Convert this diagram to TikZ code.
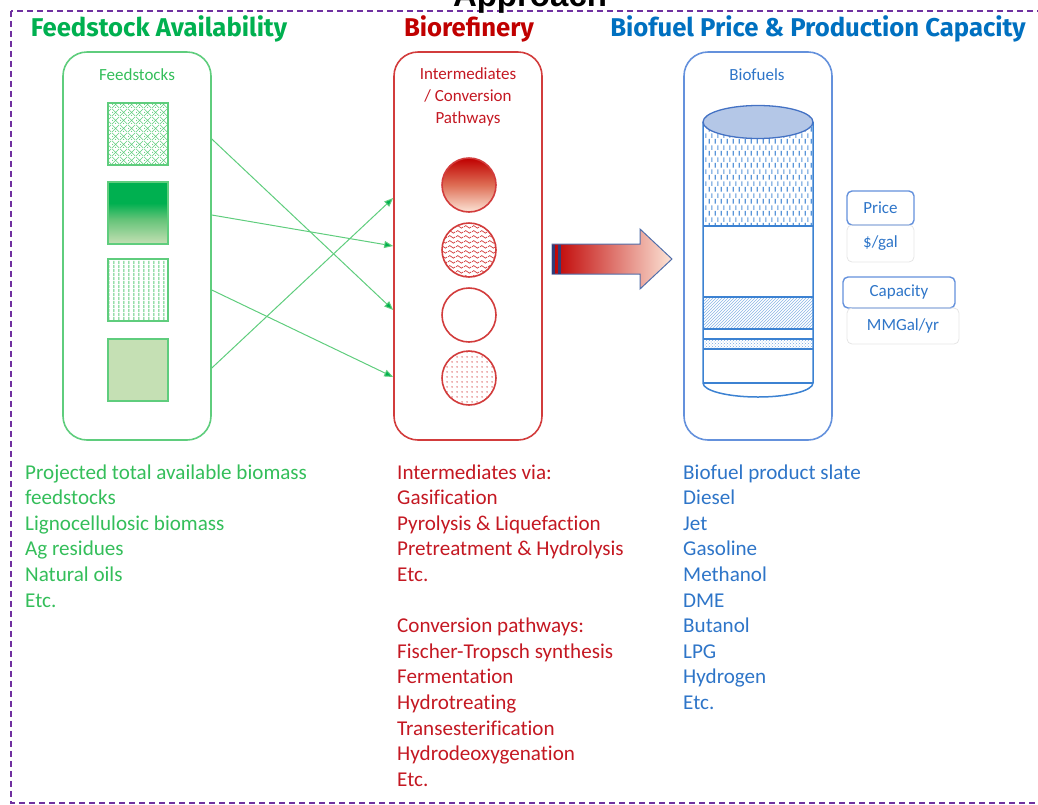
\documentclass[tikz,border=0pt]{standalone}
\usepackage{fontspec}
\setmainfont[Ligatures=NoCommon]{Carlito}
\newfontfamily\headfont{Fira Sans}
\newfontfamily\titlefont{Liberation Sans}
\usetikzlibrary{arrows.meta,patterns}

\definecolor{headgreen}{RGB}{0,176,80}
\definecolor{headred}{RGB}{192,0,0}
\definecolor{headblue}{RGB}{0,112,192}
\definecolor{feedgreen}{RGB}{52,190,90}
\definecolor{feededge}{RGB}{95,205,125}
\definecolor{refred}{RGB}{196,24,34}
\definecolor{refedge}{RGB}{210,60,60}
\definecolor{fuelblue}{RGB}{46,117,200}
\definecolor{fueledge}{RGB}{100,145,220}
\definecolor{swlight}{RGB}{197,224,180}
\definecolor{swmid}{RGB}{100,195,120}
\definecolor{swdark}{RGB}{0,176,80}
\definecolor{pathred}{RGB}{192,0,0}
\definecolor{pathmid}{RGB}{222,110,85}
\definecolor{pathpeach}{RGB}{252,228,214}
\definecolor{cyltop}{RGB}{180,199,231}
\definecolor{cyledge}{RGB}{68,114,196}
\definecolor{cylblue}{RGB}{60,130,210}
\definecolor{framepurple}{RGB}{112,48,160}
\definecolor{arrowedge}{RGB}{80,110,170}
\definecolor{stripenavy}{RGB}{50,60,120}

% fills for swatches, pathway circles and the flow arrow
\pgfdeclareverticalshading{greenfade}{100bp}{color(0bp)=(swlight); color(25bp)=(swlight); color(45bp)=(swmid); color(58bp)=(swdark); color(100bp)=(swdark)}
\pgfdeclareverticalshading{redfade}{100bp}{color(0bp)=(pathpeach); color(25bp)=(pathpeach); color(50bp)=(pathmid); color(75bp)=(pathred); color(100bp)=(pathred)}
\pgfdeclarehorizontalshading{flowfade}{100bp}{color(0bp)=(pathred); color(25bp)=(pathred); color(75bp)=(pathpeach); color(100bp)=(pathpeach)}

\pgfdeclarepatternformonly{ripples}{\pgfpointorigin}{\pgfqpoint{8pt}{5pt}}{\pgfqpoint{8pt}{5pt}}{
  \pgfsetlinewidth{0.8pt}
  \pgfpathmoveto{\pgfqpoint{0pt}{2.5pt}}
  \pgfpathcurveto{\pgfqpoint{2pt}{4.5pt}}{\pgfqpoint{2pt}{4.5pt}}{\pgfqpoint{4pt}{2.5pt}}
  \pgfpathcurveto{\pgfqpoint{6pt}{0.5pt}}{\pgfqpoint{6pt}{0.5pt}}{\pgfqpoint{8pt}{2.5pt}}
  \pgfusepath{stroke}}
\pgfdeclarepatternformonly{fueldashes}{\pgfpointorigin}{\pgfqpoint{6pt}{12pt}}{\pgfqpoint{6pt}{12pt}}{
  \pgfsetlinewidth{1.3pt}
  \pgfpathmoveto{\pgfqpoint{1.5pt}{0.5pt}}\pgfpathlineto{\pgfqpoint{1.5pt}{5.5pt}}
  \pgfpathmoveto{\pgfqpoint{4.5pt}{6.5pt}}\pgfpathlineto{\pgfqpoint{4.5pt}{11.5pt}}
  \pgfusepath{stroke}}
\pgfdeclarepatternformonly{openlines}{\pgfpointorigin}{\pgfqpoint{4.5pt}{4pt}}{\pgfqpoint{4.5pt}{4pt}}{
  \pgfsetlinewidth{1.2pt}
  \pgfpathmoveto{\pgfqpoint{1pt}{0pt}}\pgfpathlineto{\pgfqpoint{1pt}{4pt}}
  \pgfusepath{stroke}}
\pgfdeclarepatternformonly{bigdots}{\pgfpointorigin}{\pgfqpoint{5pt}{5pt}}{\pgfqpoint{5pt}{5pt}}{
  \pgfpathcircle{\pgfqpoint{2.5pt}{2.5pt}}{0.9pt}
  \pgfusepath{fill}}
\pgfdeclarepatternformonly{lattice}{\pgfpointorigin}{\pgfqpoint{8pt}{8pt}}{\pgfqpoint{8pt}{8pt}}{
  \pgfsetlinewidth{0.6pt}
  \pgfpathmoveto{\pgfqpoint{0pt}{0pt}}\pgfpathlineto{\pgfqpoint{8pt}{8pt}}
  \pgfpathmoveto{\pgfqpoint{0pt}{8pt}}\pgfpathlineto{\pgfqpoint{8pt}{0pt}}
  \pgfusepath{stroke}
  \pgfpathcircle{\pgfqpoint{4pt}{0.6pt}}{0.7pt}
  \pgfpathcircle{\pgfqpoint{0.6pt}{4pt}}{0.7pt}
  \pgfusepath{fill}}

\tikzset{
  panel/.style={draw, rounded corners=24pt, line width=1.6pt, minimum width=148pt, minimum height=388pt, inner sep=0pt},
  headline/.style={font=\headfont\bfseries\fontsize{25.7}{30}\selectfont},
  paneltitle/.style={font=\fontsize{17}{22}\selectfont, align=center},
  listtext/.style={anchor=base west, inner sep=0pt, font=\fontsize{21.1}{25.6}\selectfont},
  swatch/.style={draw=feededge, line width=1.8pt, minimum width=60pt, minimum height=62pt, inner sep=0pt},
  pathway/.style={circle, draw=refedge, line width=1.6pt, minimum size=54pt, inner sep=0pt},
  feedarrow/.style={draw=feededge, line width=1pt, -{Triangle[length=9pt,width=7pt,fill=headgreen]}},
  tagbox/.style={draw=fueledge, rounded corners=5pt, line width=1.4pt, inner sep=0pt, text=fuelblue, font=\fontsize{17}{20}\selectfont},
  unitbox/.style={draw=black!10, rounded corners=5pt, line width=0.8pt, inner sep=0pt, text=fuelblue, font=\fontsize{17}{20}\selectfont},
  cylline/.style={draw=cylblue, line width=1.5pt}
}

\begin{document}
\begin{tikzpicture}[x=1pt,y=-1pt]
  \useasboundingbox (0,0) rectangle (1038,804);

  % frame and headings
  \draw[framepurple, line width=1.5pt, dash pattern=on 6pt off 4pt] (11,11) rectangle (1050,803);
  \node[font=\titlefont\bfseries\fontsize{33}{36}\selectfont, anchor=base] (approach) at (530,6) {Approach};
  \node[headline, text=headgreen] (feedhead) at (159,29) {Feedstock Availability};
  \node[headline, text=headred] (refhead) at (469,29) {Biorefinery};
  \node[headline, text=headblue] (fuelhead) at (818,29) {Biofuel Price \& Production Capacity};

  % panels
  \node[panel, draw=feededge] (feedbox) at (137,246) {};
  \node[panel, draw=refedge] (refbox) at (468,246) {};
  \node[panel, draw=fueledge] (fuelbox) at (758,246) {};
  \node[paneltitle, text=feedgreen] (feedlabel) at (137,75) {Feedstocks};
  \node[paneltitle, text=refred] (reflabel) at (468,97) {Intermediates\\/ Conversion\\Pathways};
  \node[paneltitle, text=fuelblue] (fuellabel) at (757,75) {Biofuels};

  % feedstock swatches
  \node[swatch, pattern=lattice, pattern color=feededge] (sw1) at (138,134) {};
  \node[swatch, shading=greenfade] (sw2) at (138,213) {};
  \node[swatch, pattern=openlines, pattern color=feededge] (sw3) at (138,290) {};
  \node[swatch, fill=swlight] (sw4) at (138,370) {};

  % intermediates / pathways
  \node[pathway, shading=redfade] (pw1) at (469,185) {};
  \node[pathway, pattern=ripples, pattern color=refedge] (pw2) at (469,250) {};
  \node[pathway] (pw3) at (469,315) {};
  \node[pathway, pattern=bigdots, pattern color=refedge!80] (pw4) at (469,378) {};

  % feedstock to biorefinery links
  \coordinate (out1) at (feedbox.east |- 0,139);
  \coordinate (out2) at (feedbox.east |- 0,215);
  \coordinate (out3) at (feedbox.east |- 0,290);
  \coordinate (out4) at (feedbox.east |- 0,368);
  \coordinate (in1) at (refbox.west |- 0,198);
  \coordinate (in2) at (refbox.west |- 0,246);
  \coordinate (in3) at (refbox.west |- 0,310);
  \coordinate (in4) at (refbox.west |- 0,377);
  \draw[feedarrow] (out1) -- (in3);
  \draw[feedarrow] (out2) -- (in2);
  \draw[feedarrow] (out3) -- (in4);
  \draw[feedarrow] (out4) -- (in1);

  % flow arrow
  \path[shading=flowfade, draw=arrowedge, line width=1pt]
    (552,244) -- (640,244) -- (640,229) -- (672,259) -- (640,289) -- (640,274) -- (552,274) -- cycle;
  \fill[stripenavy] (552,244.5) rectangle (555,273.5);
  \fill[stripenavy] (558,244.5) rectangle (561,273.5);

  % fuel tank
  \path[pattern=fueldashes, pattern color=cylblue!85] (703,122) rectangle (813,226);
  \path[pattern=north east lines, pattern color=cylblue!60] (703,297) rectangle (813,329);
  \path[pattern=crosshatch dots, pattern color=cylblue!70] (703,339) rectangle (813,349);
  \foreach \y in {226,297,329,339,349,383}
    \draw[cylline] (703,\y) -- (813,\y);
  \draw[cylline] (703,122) -- (703,383) arc[start angle=180, end angle=0, x radius=55, y radius=14] -- (813,122);
  \draw[fill=cyltop, draw=cyledge, line width=1.3pt] (758,122) ellipse[x radius=55, y radius=16.5];

  % price and capacity
  \node[tagbox, minimum width=67pt, minimum height=34pt] (price) at (880.5,208) {Price};
  \node[unitbox, minimum width=67pt, minimum height=37pt] (priceunit) at (880.5,243.5) {\$/gal};
  \node[tagbox, minimum width=112pt, minimum height=31pt] (capacity) at (899,292.5) {Capacity};
  \node[unitbox, minimum width=112pt, minimum height=36pt] (capunit) at (903,326) {MMGal/yr};

  % lists
  \foreach \txt [count=\i from 0] in {Projected total available biomass, feedstocks,
      Lignocellulosic biomass, Ag residues, Natural oils, Etc.}
    \node[listtext, text=feedgreen] (feed\i) at (25,479+25.6*\i) {\txt};
  \foreach \txt [count=\i from 0] in {Intermediates via:, Gasification,
      Pyrolysis \& Liquefaction, Pretreatment \& Hydrolysis, Etc.}
    \node[listtext, text=refred] (mid\i) at (397,479+25.6*\i) {\txt};
  \foreach \txt [count=\i from 0] in {Conversion pathways:, Fischer-Tropsch synthesis,
      Fermentation, Hydrotreating, Transesterification, Hydrodeoxygenation, Etc.}
    \node[listtext, text=refred] (conv\i) at (397,632.6+25.6*\i) {\txt};
  \foreach \txt [count=\i from 0] in {Biofuel product slate, Diesel, Jet, Gasoline,
      Methanol, DME, Butanol, LPG, Hydrogen, Etc.}
    \node[listtext, text=fuelblue] (fuel\i) at (683,479+25.6*\i) {\txt};
\end{tikzpicture}
\end{document}
